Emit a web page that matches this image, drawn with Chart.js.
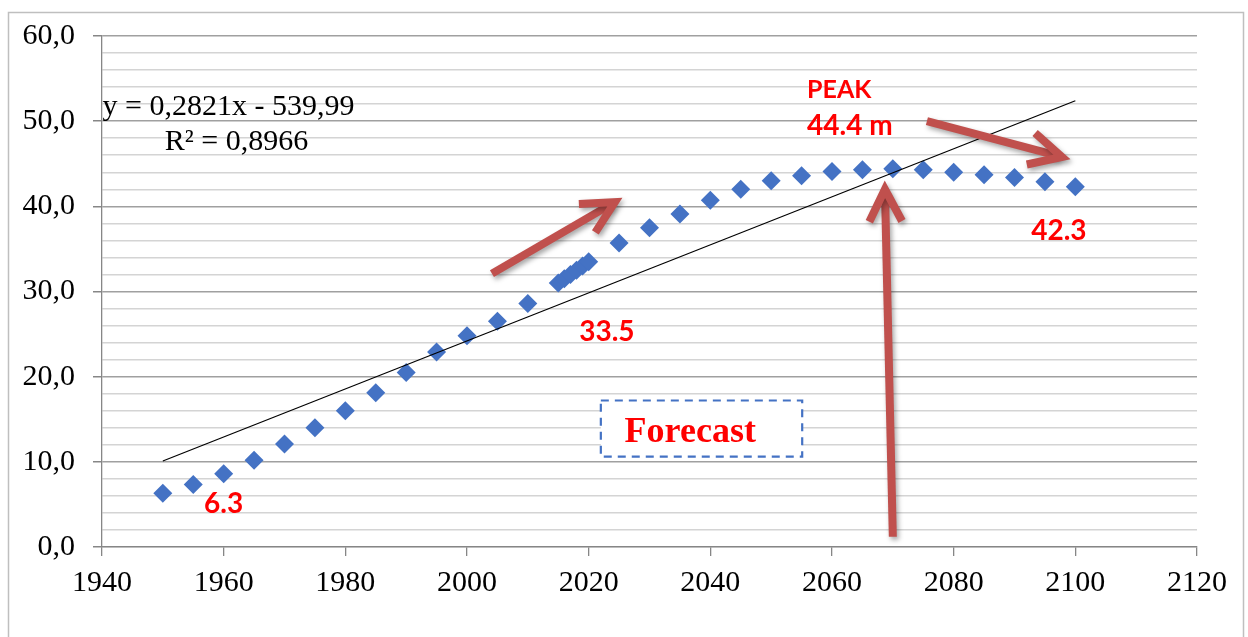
<!DOCTYPE html>
<html>
<head>
<meta charset="utf-8">
<script src="https://cdn.jsdelivr.net/npm/chart.js@4"></script>
<style>
html,body{margin:0;padding:0;background:#fff;}
#wrap{width:1248px;height:637px;position:relative;}
</style>
</head>
<body>
<div id="wrap"><canvas id="c" width="1248" height="637"></canvas></div>
<script>
// ---- data ----
const years = [1950,1955,1960,1965,1970,1975,1980,1985,1990,1995,2000,2005,2010,
  2015,2016,2017,2018,2019,2020,
  2025,2030,2035,2040,2045,2050,2055,2060,2065,2070,2075,2080,2085,2090,2095,2100];
const values = [6.3,7.35,8.6,10.2,12.1,14.0,16.0,18.1,20.5,22.9,24.8,26.5,28.6,
  31.0,31.5,32.0,32.5,33.0,33.5,
  35.7,37.5,39.1,40.7,42.0,43.0,43.6,44.1,44.3,44.4,44.3,44.0,43.7,43.4,42.9,42.3];
const trendYears = [1950, 2100];
const trendValues = [10.1, 52.4];
const xTicks = [1940,1960,1980,2000,2020,2040,2060,2080,2100,2120];
const yTicks = [0,10,20,30,40,50,60];
const yGridLines = [0,2,4,6,8,10,12,14,16,18,20,22,24,26,28,30,32,34,36,38,40,42,44,46,48,50,52,54,56,58,60];

// ---- annotations (data coordinates) ----
const labels = [
  {text:'6.3', x:1960, y:5.1, align:'center', font:'bold 28px Lato', color:'#FF0000'},
  {text:'33.5', x:2023, y:25.2, align:'center', font:'bold 28px Lato', color:'#FF0000'},
  {text:'PEAK', x:2055.9, y:53.7, align:'left', font:'bold 25px Lato', color:'#FF0000'},
  {text:'44.4 m', x:2055.9, y:49.4, align:'left', font:'bold 28px Lato', color:'#FF0000'},
  {text:'42.3', x:2097.3, y:37.1, align:'center', font:'bold 28px Lato', color:'#FF0000'},
  {text:'Forecast', x:2036.7, y:13.4, align:'center', font:'bold 36px "Liberation Serif"', color:'#FF0000'},
  {text:'y = 0,2821x - 539,99', x:1940.1, y:51.6, align:'left', font:'30px "Liberation Serif"', color:'#000'},
  {text:'R² = 0,8966', x:1962.1, y:47.5, align:'center', font:'30px "Liberation Serif"', color:'#000'}
];
const arrows = [
  [2004.1, 32.1, 2024.3, 40.5],
  [2075.6, 50.0, 2097.8, 45.8],
  [2070.0, 1.2, 2068.7, 42.0]
];
const box = [2022.0, 17.2, 2055.1, 10.6];

const annot = {
  id:'annot',
  afterDatasetsDraw(chart){
    const ctx = chart.ctx, xs = chart.scales.x, ys = chart.scales.y;
    ctx.save();
    // dashed box
    ctx.strokeStyle = '#4472C4'; ctx.lineWidth = 2.2; ctx.setLineDash([8,6]);
    const bx1 = xs.getPixelForValue(box[0]), by1 = ys.getPixelForValue(box[1]);
    const bx2 = xs.getPixelForValue(box[2]), by2 = ys.getPixelForValue(box[3]);
    ctx.fillStyle = '#fff';
    ctx.fillRect(bx1, by1, bx2-bx1, by2-by1);
    ctx.strokeRect(bx1, by1, bx2-bx1, by2-by1);
    ctx.setLineDash([]);
    // arrows
    ctx.strokeStyle = '#C0504D'; ctx.lineWidth = 8; ctx.lineCap = 'butt'; ctx.lineJoin = 'miter';
    ctx.shadowColor = 'rgba(0,0,0,0.35)'; ctx.shadowBlur = 5; ctx.shadowOffsetX = 2; ctx.shadowOffsetY = 3;
    arrows.forEach(a => {
      const x1 = xs.getPixelForValue(a[0]), y1 = ys.getPixelForValue(a[1]);
      const x2 = xs.getPixelForValue(a[2]), y2 = ys.getPixelForValue(a[3]);
      const ang = Math.atan2(y2-y1, x2-x1);
      const hl = 36, ha = 27*Math.PI/180;
      ctx.beginPath();
      ctx.moveTo(x1, y1);
      ctx.lineTo(x2 - Math.cos(ang)*3, y2 - Math.sin(ang)*3);
      ctx.stroke();
      ctx.beginPath();
      ctx.moveTo(x2 - hl*Math.cos(ang-ha), y2 - hl*Math.sin(ang-ha));
      ctx.lineTo(x2, y2);
      ctx.lineTo(x2 - hl*Math.cos(ang+ha), y2 - hl*Math.sin(ang+ha));
      ctx.stroke();
    });
    ctx.shadowColor = 'transparent'; ctx.shadowBlur = 0; ctx.shadowOffsetX = 0; ctx.shadowOffsetY = 0;
    // texts
    ctx.textBaseline = 'middle';
    labels.forEach(l => {
      ctx.font = l.font; ctx.fillStyle = l.color; ctx.textAlign = l.align;
      ctx.fillText(l.text, xs.getPixelForValue(l.x), ys.getPixelForValue(l.y));
    });
    ctx.restore();
  },
  afterDraw(chart){
    const ctx = chart.ctx;
    ctx.save();
    ctx.strokeStyle = '#BFBFBF'; ctx.lineWidth = 1.5;
    ctx.beginPath();
    ctx.moveTo(8.5, 640); ctx.lineTo(8.5, 12.5); ctx.lineTo(1243.5, 12.5); ctx.lineTo(1243.5, 640);
    ctx.stroke();
    ctx.restore();
  }
};

new Chart(document.getElementById('c'), {
  type: 'scatter',
  data: {
    datasets: [
      {
        type:'line',
        data: trendYears.map((x,i)=>({x:x, y:trendValues[i]})),
        borderColor:'#000', borderWidth:1.2, pointRadius:0, fill:false
      },
      {
        data: years.map((x,i)=>({x:x, y:values[i]})),
        pointStyle:'rectRot', pointRadius:9.5, pointHoverRadius:9.5,
        backgroundColor:'#4472C4', borderColor:'#4472C4', borderWidth:0
      }
    ]
  },
  options: {
    responsive:false, animation:false, devicePixelRatio:1,
    layout:{padding:{left:0, top:33, right:51, bottom:0}},
    plugins:{legend:{display:false}, tooltip:{enabled:false}},
    scales:{
      x:{
        type:'linear', min:1940, max:2120,
        afterBuildTicks: s => { s.ticks = xTicks.map(v=>({value:v})); },
        afterFit: s => { s.height = 90; },
        ticks:{font:{family:'Liberation Serif', size:30}, color:'#000', padding:9, maxRotation:0,
          autoSkip:false, callback: v => String(v)},
        grid:{drawOnChartArea:false, drawTicks:true, tickLength:9, color:'#868686', lineWidth:1.3},
        border:{color:'#868686', width:1.3}
      },
      y:{
        type:'linear', min:0, max:60,
        afterBuildTicks: s => { s.ticks = yGridLines.map(v=>({value:v})); },
        ticks:{font:{family:'Liberation Serif', size:30}, color:'#000', padding:18, autoSkip:false,
          callback: v => yTicks.includes(v) ? v.toFixed(1).replace('.', ',') : ''},
        afterFit: s => { s.width = 102; },
        grid:{
          color: c => (c.tick && c.tick.value % 10 === 0) ? '#A0A0A0' : '#D4D4D4',
          lineWidth: 1.5,
          tickColor: c => (c.tick && c.tick.value % 10 === 0) ? '#868686' : 'rgba(0,0,0,0)',
          tickLength:9
        },
        border:{color:'#868686', width:1.3}
      }
    }
  },
  plugins:[annot]
});
</script>
</body>
</html>
